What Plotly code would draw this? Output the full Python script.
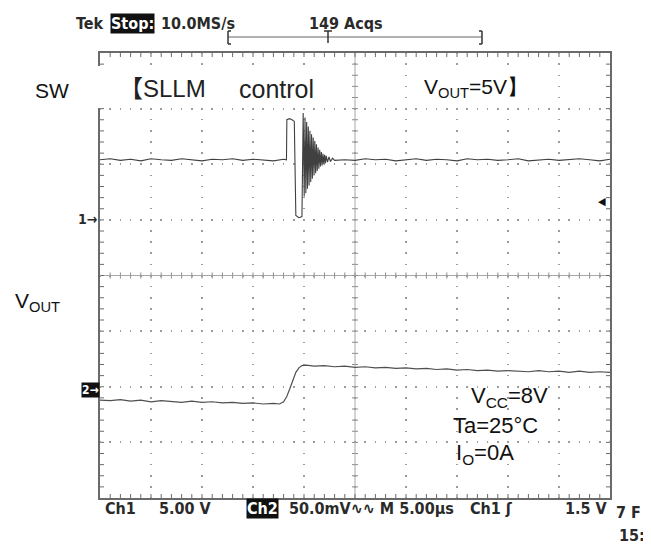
import plotly.graph_objects as go

# ---------------- data ----------------
# CH1 : SW node, 5 V/div ; CH2 : VOUT (AC), 50 mV/div ; time 5 us/div
sw_time_us = [0, 1, 2, 3, 4, 5, 6, 7, 8, 9, 10, 11, 12, 13, 14, 15, 16, 17, 18,
              18.28, 18.32, 18.6, 18.9, 19.05, 19.2, 19.5, 19.8, 19.92,
              20.02, 20.10, 20.18, 20.26, 20.34, 20.42, 20.50, 20.58, 20.66, 20.74,
              20.82, 20.90, 20.98, 21.06, 21.14, 21.22, 21.30, 21.38, 21.46, 21.54,
              21.62, 21.70, 21.78, 21.86, 21.94, 22.02, 22.10, 22.18, 22.30, 22.45,
              22.60, 22.80, 23.00,
              24, 25, 26, 27, 28, 29, 30, 31, 32, 33, 34, 35, 36, 37, 38, 39, 40,
              41, 42, 43, 44, 45, 46, 47, 48, 49, 50]
sw_volts = [5.4, 5.5, 5.35, 5.45, 5.3, 5.5, 5.4, 5.35, 5.5, 5.4, 5.3, 5.45, 5.4, 5.5,
            5.35, 5.45, 5.4, 5.3, 5.45,
            5.4, 9.0, 9.1, 8.95, 8.85, 0.4, 0.2, 0.3, 9.6,
            2.1, 9.2, 2.4, 8.8, 2.8, 8.4, 3.1, 8.0, 3.4, 7.7,
            3.7, 7.4, 4.0, 7.1, 4.2, 6.8, 4.4, 6.5, 4.6, 6.3,
            4.8, 6.1, 4.9, 5.95, 5.0, 5.85, 5.1, 5.75, 5.2, 5.65,
            5.25, 5.55, 5.35,
            5.4, 5.35, 5.5, 5.4, 5.45, 5.3, 5.4, 5.5, 5.35, 5.45, 5.4, 5.3, 5.5,
            5.4, 5.45, 5.35, 5.4, 5.5, 5.3, 5.4, 5.45, 5.35, 5.4, 5.5, 5.4, 5.3, 5.45]

vout_time_us = [0, 1, 2, 3, 4, 5, 6, 7, 8, 9, 10, 11, 12, 13, 14, 15, 16, 17,
                17.6, 18.0, 18.3, 18.6, 18.9, 19.2, 19.5, 19.8, 20.2, 21, 22, 23,
                24, 25, 26, 27, 28, 29, 30, 31, 32, 33, 34, 35, 36, 37, 38, 39, 40,
                41, 42, 43, 44, 45, 46, 47, 48, 49, 50]
vout_mv = [-12, -12.5, -11.5, -13, -12, -13.5, -12.5, -13, -14, -13, -14, -13.5,
           -14.5, -14, -15, -14.5, -15.5, -15,
           -15.5, -13.5, -9, -2, 6, 13, 17, 19, 19.5, 18.5, 19, 18,
           18.5, 17.5, 18, 17, 17.5, 16.5, 17, 16, 16.5, 15.5, 16, 15, 15.5, 14.5,
           15, 14, 14.5, 14, 13.5, 14.5, 13.5, 14, 13, 14, 13, 13.5, 13]

# ---------------- geometry (window pixels) ----------------
OFF = 8                      # default page margin of the html body
W, H = 651 - OFF, 545 - OFF  # figure size so the page fits the window
L, R, T, B = 100, 610, 53, 498   # plot-area edges in window pixels


def fx(px):
    return (px - L) / (R - L)


def fy(py):
    return (B - py) / (B - T)


SCOPE_FONT = "Liberation Sans Narrow, Arial Narrow, DejaVu Sans Condensed, sans-serif"
LABEL_FONT = "Liberation Sans, Arial, sans-serif"
GRID = "#9c9c9c"
FRAME = "#6a6a6a"
TICK = "#8a8a8a"

fig = go.Figure()
fig.add_trace(go.Scatter(x=sw_time_us, y=sw_volts, mode="lines",
                         line=dict(color="#404040", width=1.1), yaxis="y",
                         hoverinfo="skip", showlegend=False))
fig.add_trace(go.Scatter(x=vout_time_us, y=vout_mv, mode="lines",
                         line=dict(color="#505050", width=1.2), yaxis="y2",
                         hoverinfo="skip", showlegend=False))

axis_common = dict(showticklabels=False, showline=True, linecolor=FRAME, linewidth=1.5,
                   mirror=True, ticks="", showgrid=True, gridcolor=GRID, gridwidth=1.5,
                   zeroline=False, fixedrange=True)

X_RANGE = [0, 50]        # 10 div x 5 us
Y1_RANGE = [-25, 15]     # 8 div x 5 V, CH1 ground 1 div above centre
Y2_RANGE = [-100, 300]   # 8 div x 50 mV, CH2 marker 2 div below centre

fig.update_layout(
    width=W, height=H,
    margin=dict(l=L - OFF, r=W - (R - OFF), t=T - OFF, b=H - (B - OFF), pad=0),
    paper_bgcolor="white", plot_bgcolor="white",
    showlegend=False,
    xaxis=dict(range=X_RANGE, dtick=5, tick0=0,
               griddash="0.75px,9.625px,0.75px,0px", **axis_common),
    yaxis=dict(range=Y1_RANGE, dtick=5, tick0=0,
               griddash="0.75px,8.7px,0.75px,0px", **axis_common),
    yaxis2=dict(range=Y2_RANGE, overlaying="y", visible=False, fixedrange=True),
)

shapes = []
# centre cross-hair
shapes.append(dict(type="line", xref="paper", yref="paper", x0=0.5, x1=0.5, y0=0, y1=1,
                   line=dict(color="#a8a8a8", width=1), layer="below"))
shapes.append(dict(type="line", xref="paper", yref="paper", x0=0, x1=1, y0=0.5, y1=0.5,
                   line=dict(color="#a8a8a8", width=1), layer="below"))
# small ticks every 0.2 division: frame edges (inward) and centre lines (both sides)
tx = 4 / (R - L)
ty = 4 / (B - T)
cx = 3 / (R - L)
cy = 3 / (B - T)
for t_us in range(X_RANGE[0] + 1, X_RANGE[1]):
    for y0, y1, col in ((0, ty, FRAME), (1 - ty, 1, FRAME), (0.5 - cy, 0.5 + cy, TICK)):
        shapes.append(dict(type="line", xref="x", yref="paper", x0=t_us, x1=t_us,
                           y0=y0, y1=y1, line=dict(color=col, width=1), layer="below"))
for v in range(Y1_RANGE[0] + 1, Y1_RANGE[1]):
    for x0, x1, col in ((0, tx, FRAME), (1 - tx, 1, FRAME), (0.5 - cx, 0.5 + cx, TICK)):
        shapes.append(dict(type="line", xref="paper", yref="y", x0=x0, x1=x1,
                           y0=v, y1=v, line=dict(color=col, width=1), layer="below"))

# white patches behind the overlay labels
shapes.append(dict(type="rect", xref="paper", yref="paper", layer="above",
                   x0=fx(60), x1=fx(352), y0=fy(108), y1=fy(66),
                   fillcolor="white", line=dict(width=0)))
shapes.append(dict(type="rect", xref="paper", yref="paper", layer="above",
                   x0=fx(415), x1=fx(535), y0=fy(106), y1=fy(70),
                   fillcolor="white", line=dict(width=0)))
# trigger-position bracket at the top
bx0, bx1 = 228, 482
for seg in [((bx0, 37), (bx1, 37)), ((bx0, 31), (bx0, 44)), ((bx0, 31), (bx0 + 3, 31)),
            ((bx0, 44), (bx0 + 3, 44)), ((bx1, 31), (bx1, 44)), ((bx1 - 3, 31), (bx1, 31)),
            ((bx1 - 3, 44), (bx1, 44)), ((328, 31), (328, 43)), ((324, 31), (332, 31))]:
    (ax, ay), (bx, by) = seg
    horiz_main = (ay == 37 and by == 37)
    shapes.append(dict(type="line", xref="paper", yref="paper", x0=fx(ax), x1=fx(bx),
                       y0=fy(ay), y1=fy(by),
                       line=dict(color="#666", width=1) if horiz_main
                       else dict(color="#333", width=1.5)))
fig.update_layout(shapes=shapes)


def ann(text, x, y, size=16, color="#2a2a2a", family=SCOPE_FONT, xanchor="left",
        bgcolor=None, bold=False):
    d = dict(text=("<b>%s</b>" % text) if bold else text, xref="paper", yref="paper",
             x=fx(x), y=fy(y), xanchor=xanchor, yanchor="middle", showarrow=False,
             font=dict(family=family, size=size, color=color), borderpad=0)
    if bgcolor:
        d["bgcolor"] = bgcolor
    fig.add_annotation(**d)


# header
ann("Tek", 75, 23, bold=True)
ann("Stop:", 110, 23, color="white", bgcolor="#111", bold=True)
ann("10.0MS/s", 160, 23, bold=True)
ann("149 Acqs", 308, 23, bold=True)
# footer
ann("Ch1", 104, 508, bold=True)
ann("5.00 V", 158, 508, bold=True)
ann("Ch2", 246, 508, color="white", bgcolor="#111", bold=True)
ann("50.0mV\u223f\u223f M 5.00\u00b5s", 288, 508, bold=True)
ann("Ch1 \u0283", 469, 508, bold=True)
ann("1.5 V", 609, 508, xanchor="right", bold=True)
ann("7 F", 615, 512, bold=True)
ann("15:", 618, 535, bold=True)
# channel / trigger markers
ann("1\u2192", 98, 219, size=14, xanchor="right", bold=True)
ann("2\u2192", 100, 390, size=12, color="white", bgcolor="#111", xanchor="right", bold=True)
ann("\u25c0", 607, 202, size=11, color="#111", xanchor="right")

# overlay labels
ann("SW", 34, 90, size=21, color="#111", family=LABEL_FONT)
ann("\u3010SLLM", 118, 89, size=24, color="#222",
    family="Liberation Sans, Noto Sans CJK JP, sans-serif")
ann("control", 238, 89, size=25, color="#222", family=LABEL_FONT)
ann("V<sub>OUT</sub>=5V\u3011", 423, 88, size=21, color="#111", family=LABEL_FONT)
ann("V<sub>OUT</sub>", 14, 302, size=21, color="#111", family=LABEL_FONT)
ann("V<sub>CC</sub>=8V", 470, 397, size=22, color="#111", family=LABEL_FONT)
ann("Ta=25\u00b0C", 452, 425, size=22, color="#111", family=LABEL_FONT)
ann("I<sub>O</sub>=0A", 455, 454, size=22, color="#111", family=LABEL_FONT)

fig.write_html("out.html")
